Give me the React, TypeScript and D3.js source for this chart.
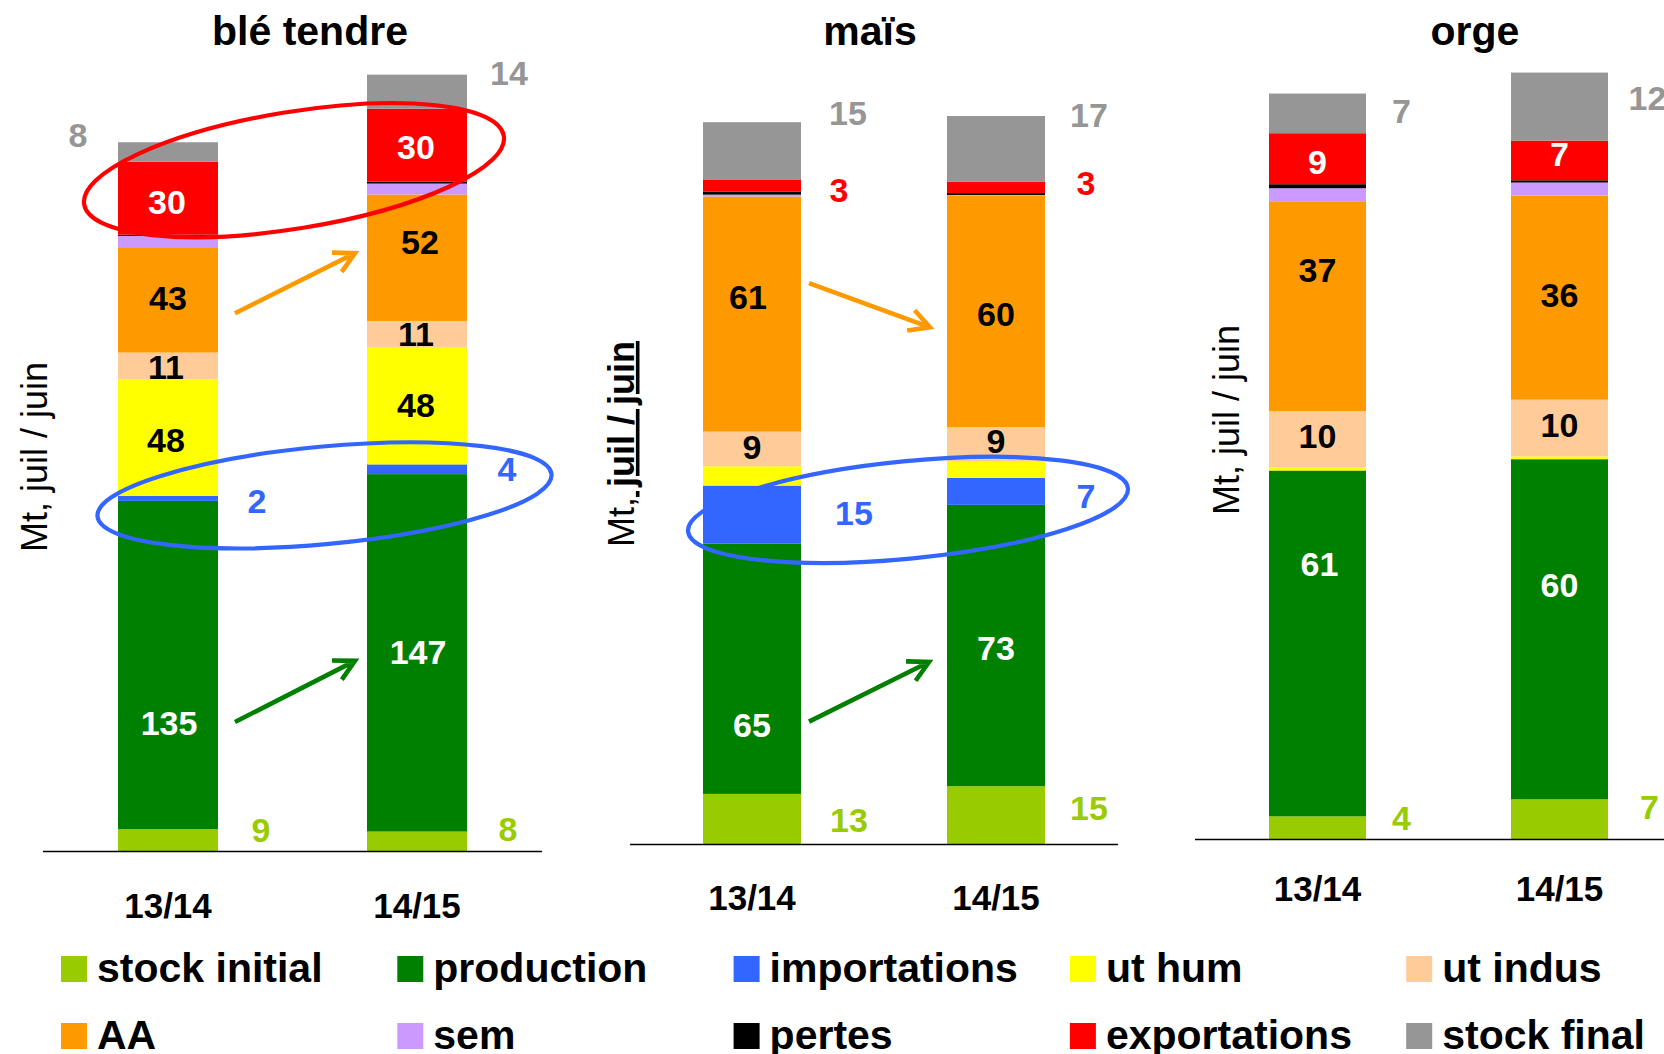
import React from "react";
import * as d3 from "d3";

// ---------- DATA ----------
const panels = ["blé tendre", "maïs", "orge"];
const years = ["13/14", "14/15"];
const seriesNames = [
  "stock initial", "production", "importations", "ut hum", "ut indus",
  "AA", "sem", "pertes", "exportations", "stock final",
];
const seriesColors = [
  "#99cc00", "#008000", "#3366ff", "#ffff00", "#ffcc99",
  "#ff9900", "#cc99ff", "#000000", "#ff0000", "#969696",
];
// order: [blé 13/14, blé 14/15, maïs 13/14, maïs 14/15, orge 13/14, orge 14/15]
const stockInitial = [9, 8, 13, 15, 4, 7];
const production = [135, 147, 65, 73, 61, 60];
const importations = [2, 4, 15, 7, 0, 0];
const utHum = [48, 48, 5, 4.2, 0.5, 0.5];
const utIndus = [11, 11, 9, 9, 10, 10];
const aa = [43, 52, 61, 60, 37, 36];
const sem = [5, 4.5, 0.5, 0.2, 2.3, 2.3];
const pertes = [0.5, 0.8, 0.8, 0.5, 0.7, 0.4];
const exportations = [30, 30, 3, 3, 9, 7];
const stockFinal = [8, 14, 15, 17, 7, 12];
const seriesValues = [stockInitial, production, importations, utHum, utIndus, aa, sem, pertes, exportations, stockFinal];

// ---------- LAYOUT ----------
const FONT = "'Liberation Sans', Arial, Helvetica, sans-serif";
const W = 1664, H = 1054;

const panelLayout = [
  { titleX: 310, baseline: 851, yMax: 350, xRange: [118, 467], bw: 100, axisX: [43, 542], xLabelY: 905, yLab: [35, 457] },
  { titleX: 870, baseline: 844, yMax: 219, xRange: [703, 1045], bw: 98, axisX: [630, 1118], xLabelY: 897, yLab: [622, 444] },
  { titleX: 1475, baseline: 839, yMax: 148, xRange: [1269, 1608], bw: 97, axisX: [1195, 1664], xLabelY: 888, yLab: [1227, 420] },
];

// label placement: [panel, year, series, dx from bar centre, dy from segment centre]
const labelSpecs: [number, number, number, number, number][] = [
  [0, 0, 0, 93, -10], [0, 0, 1, 1, 58], [0, 0, 2, 89, 2], [0, 0, 3, -2, 2.5], [0, 0, 4, -2, 1], [0, 0, 5, 0, -3], [0, 0, 8, -1, 4], [0, 0, 9, -90, -17],
  [0, 1, 0, 91, -13], [0, 1, 1, 1, -1], [0, 1, 2, 90, -1], [0, 1, 3, -1, -1], [0, 1, 4, -1, -1], [0, 1, 5, 3, -15.6], [0, 1, 8, -1, 2], [0, 1, 9, 92, -18.5],
  [1, 0, 0, 97, 1], [1, 0, 1, 0, 56], [1, 0, 2, 102, -1.5], [1, 0, 4, 0, -2], [1, 0, 5, -4, -17], [1, 0, 8, 87, 4], [1, 0, 9, 96, -38],
  [1, 1, 0, 93, -7], [1, 1, 1, 0, 2.5], [1, 1, 2, 90, 4], [1, 1, 4, 0, -4], [1, 1, 5, 0, 2], [1, 1, 8, 90, -5], [1, 1, 9, 93, -34],
  [2, 0, 0, 84, -10], [2, 0, 1, 2, -80], [2, 0, 4, 0, -4], [2, 0, 5, 0, -36], [2, 0, 8, 0, 3], [2, 0, 9, 84, -3],
  [2, 1, 0, 90, -12], [2, 1, 1, 0, -44], [2, 1, 4, 0, -3], [2, 1, 5, 0, -2.5], [2, 1, 8, 0, -7], [2, 1, 9, 88, -9],
];

// ellipses: [panel, series, dx from mid between bars, dy from avg segment centre, rx, ry, angle, colour]
const ellipseSpecs: [number, number, number, number, number, number, number, string][] = [
  [0, 8, 1.5, -1.5, 212.6, 58.4, -9.25, "#ff0000"],
  [0, 2, 32, 11.5, 228, 48.8, -5.3, "#3366ff"],
  [1, 2, 34, 7, 221, 48.7, -5.6, "#3366ff"],
];

// arrows: [panel, series, dx start from bar1 right, dy start, dx end from bar2 left, dy end, colour]
const arrowSpecs: [number, number, number, number, number, number, string][] = [
  [0, 5, 17, 13, -12, -4.6, "#ff9900"],
  [0, 1, 17, 57, -12, 8, "#008000"],
  [1, 5, 8, -31, -17, 16, "#ff9900"],
  [1, 1, 8, 53, -18, 16.5, "#008000"],
];

// ---------- COMPUTATION ----------
const rows = d3.range(6).map((i) => {
  const r: Record<string, number> = {};
  seriesNames.forEach((n, k) => (r[n] = seriesValues[k][i]));
  return r;
});
const stacked = d3.stack<Record<string, number>>().keys(seriesNames)(rows);

const xScales = panelLayout.map((l) => {
  const step = l.xRange[1] - l.xRange[0] - l.bw;
  return d3.scaleBand().domain(years).range(l.xRange as [number, number]).paddingInner(1 - l.bw / step).paddingOuter(0);
});
const yScales = panelLayout.map((l) => d3.scaleLinear().domain([0, l.yMax]).range([l.baseline, 0]));

const seg = (p: number, j: number, s: number) => {
  const d = stacked[s][p * 2 + j];
  const y = yScales[p];
  return { y0: y(d[0]), y1: y(d[1]), mid: (y(d[0]) + y(d[1])) / 2 };
};
const barX = (p: number, j: number) => xScales[p](years[j]) as number;

const insideColor = (s: number) => (s === 1 || s === 8 ? "#ffffff" : "#000000");

function arrowPath(x1: number, y1: number, x2: number, y2: number) {
  const ang = Math.atan2(y2 - y1, x2 - x1);
  const L = 23, a = (28 * Math.PI) / 180;
  const ax1 = x2 - L * Math.cos(ang - a), ay1 = y2 - L * Math.sin(ang - a);
  const ax2 = x2 - L * Math.cos(ang + a), ay2 = y2 - L * Math.sin(ang + a);
  return `M${x1},${y1}L${x2},${y2}M${ax1},${ay1}L${x2},${y2}L${ax2},${ay2}`;
}

export default function App() {
  return (
    <svg width={W} height={H} style={{ position: "absolute", left: 0, top: 0, background: "#fff" }} fontFamily={FONT}>
      <rect x={0} y={0} width={W} height={H} fill="#fff" />
      {panels.map((name, p) => {
        const l = panelLayout[p];
        const xs = xScales[p];
        return (
          <g key={name}>
            <text x={l.titleX} y={45} textAnchor="middle" fontSize={41} fontWeight="bold">{name}</text>
            {stacked.map((layer, s) =>
              years.map((yr, j) => {
                const d = layer[p * 2 + j];
                const y = yScales[p];
                const h = y(d[0]) - y(d[1]);
                if (h <= 0) return null;
                return (
                  <rect key={`${s}-${j}`} x={barX(p, j)} y={y(d[1])} width={xs.bandwidth()} height={h} fill={seriesColors[s]} />
                );
              })
            )}
            <line x1={l.axisX[0]} x2={l.axisX[1]} y1={l.baseline + 0.5} y2={l.baseline + 0.5} stroke="#000" strokeWidth={1.6} />
            {years.map((yr, j) => (
              <text key={yr} x={barX(p, j) + xs.bandwidth() / 2} y={l.xLabelY} dy="0.36em" textAnchor="middle" fontSize={35} fontWeight="bold">{yr}</text>
            ))}
            <g transform={`translate(${l.yLab[0]},${l.yLab[1]}) rotate(-90)`}>
              {p === 1 ? (
                <text x={0} y={0} dy="0.33em" textAnchor="middle" fontSize={36}>
                  <tspan>Mt,</tspan>
                  <tspan fontWeight="bold" textDecoration="underline" style={{ textDecoration: "underline" }}> juil / juin</tspan>
                </text>
              ) : (
                <text x={0} y={0} dy="0.33em" textAnchor="middle" fontSize={36}>Mt, juil / juin</text>
              )}
            </g>
          </g>
        );
      })}

      {labelSpecs.map(([p, j, s, dx, dy], i) => {
        const cx = barX(p, j) + xScales[p].bandwidth() / 2;
        const outside = Math.abs(dx) > 40;
        const v = seriesValues[s][p * 2 + j];
        return (
          <text key={`lab${i}`} x={cx + dx} y={seg(p, j, s).mid + dy} dy="0.36em" textAnchor="middle"
            fontSize={34} fontWeight="bold" fill={outside ? seriesColors[s] : insideColor(s)}>
            {d3.format("d")(Math.round(v))}
          </text>
        );
      })}

      {ellipseSpecs.map(([p, s, dx, dy, rx, ry, ang, col], i) => {
        const cx = (barX(p, 0) + barX(p, 1) + xScales[p].bandwidth()) / 2 + dx;
        const cy = (seg(p, 0, s).mid + seg(p, 1, s).mid) / 2 + dy;
        return (
          <ellipse key={`el${i}`} cx={0} cy={0} rx={rx} ry={ry} fill="none" stroke={col} strokeWidth={4.2}
            transform={`translate(${cx},${cy}) rotate(${ang})`} />
        );
      })}

      {arrowSpecs.map(([p, s, dx1, dy1, dx2, dy2, col], i) => {
        const bw = xScales[p].bandwidth();
        const x1 = barX(p, 0) + bw + dx1;
        const y1 = seg(p, 0, s).mid + dy1;
        const x2 = barX(p, 1) + dx2;
        const y2 = seg(p, 1, s).mid + dy2;
        return (
          <path key={`ar${i}`} d={arrowPath(x1, y1, x2, y2)} fill="none" stroke={col} strokeWidth={4.6} strokeLinecap="butt" strokeLinejoin="miter" />
        );
      })}

      {seriesNames.map((n, i) => {
        const row = Math.floor(i / 5), col = i % 5;
        const sx = 61 + col * 336.3;
        const sy = row === 0 ? 956 : 1023;
        return (
          <g key={`lg${i}`}>
            <rect x={sx} y={sy} width={26} height={26} fill={seriesColors[i]} />
            <text x={sx + 36} y={sy + 26} fontSize={41} fontWeight="bold">{n}</text>
          </g>
        );
      })}
    </svg>
  );
}
